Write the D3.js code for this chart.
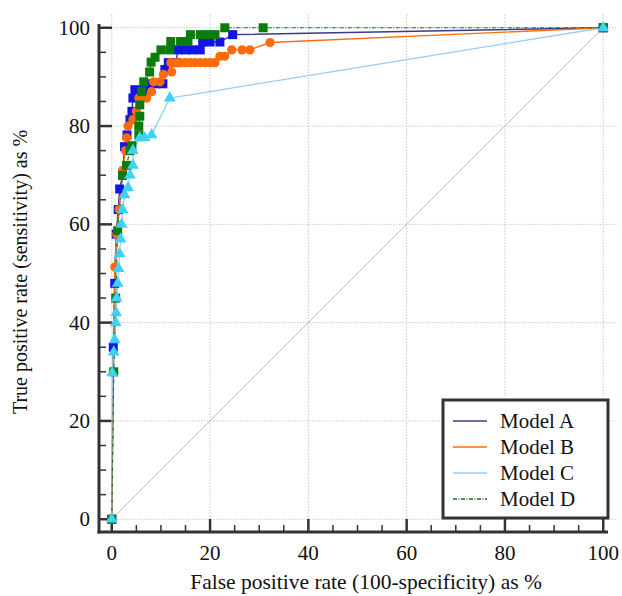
<!DOCTYPE html>
<html>
<head>
<meta charset="utf-8">
<script src="https://cdn.jsdelivr.net/npm/d3@7"></script>
<style>
  body { margin: 0; background: #fff; }
  text { font-family: "Liberation Serif", "Times New Roman", serif; fill: #111; }
</style>
</head>
<body>
<div id="roc"></div>
<script>
// ROC points per model: [false positive rate %, true positive rate %]
const modelA = [[0,0],[0.3,35],[0.6,48],[0.9,58],[1.3,63],[1.6,67.2],[2.2,70],[2.6,75.8],[3.1,78.2],[3.7,81.3],[4.1,83],[4.3,85.7],[4.7,87.4],[6.5,87.4],[7.7,88.6],[9,88.6],[10.4,88.6],[10.8,91.5],[11.5,92.9],[13,92.9],[13.5,95.5],[15,95.5],[16.5,95.5],[18,95.5],[18.5,97.1],[20,97.1],[22,97.1],[24.6,98.6],[100,100]];
const modelB = [[0,0],[0.3,30],[0.6,51.3],[1,58],[1.5,63],[2.2,71],[2.8,75],[3,77.6],[3.3,80],[4.3,81.3],[5,83],[5.5,85.7],[7.1,85.7],[8.1,87],[8.5,89],[9.8,89],[10.5,90.5],[12.2,91],[12,92.9],[13,92.9],[14,92.9],[15,92.9],[16,92.9],[17,92.9],[18,92.9],[19,92.9],[20,92.9],[21,92.9],[22,94.2],[23,94.2],[24.4,95.5],[26.5,95.5],[28.1,95.5],[32.2,97],[100,100]];
const modelC = [[0,0],[0.1,29.8],[0.4,34],[0.6,36.5],[0.8,40],[0.9,42],[1,45],[1.2,48],[1.4,51],[1.6,54],[1.8,57],[2,60],[2.2,63],[2.6,66],[3.3,67.5],[3.7,70],[4.3,72],[4.3,75],[5.7,77.6],[6.7,77.6],[8.1,78.2],[11.8,85.7],[100,100]];
const modelD = [[0,0],[0.4,30],[0.8,45],[1.2,58.7],[2.2,70],[3,72],[3.7,75],[4.1,76],[5.5,78.2],[5.5,80],[5.7,82],[5.7,84.3],[6.1,87],[6.5,89],[7.7,91],[8,93],[8.8,94],[10,95.5],[11.8,95.5],[12,97.2],[14,97.2],[15.5,97.2],[16,98.6],[18,98.6],[19.5,98.6],[21,98.6],[23,100],[30.8,100],[100,100]];

const modelNames = ["Model A", "Model B", "Model C", "Model D"];
const majorTicks = [0, 20, 40, 60, 80, 100];
const minorTicks = d3.range(5, 100, 5).filter(v => v % 20 !== 0);

const width = 622, height = 596;

const svg = d3.select("#roc")
              .append("svg")
              .attr("width", width)
              .attr("height", height);

// Scales (the plot area extends a little past 0 and 100)
const x = d3.scaleLinear().domain([-2.6, 102.8]).range([99, 617]);
const y = d3.scaleLinear().domain([-2.6, 102.8]).range([532, 14]);

// Dotted grid lines at the major ticks
svg.append("g")
   .selectAll("line")
   .data(majorTicks)
   .enter()
   .append("line")
   .attr("x1", d => x(d)).attr("x2", d => x(d))
   .attr("y1", 532).attr("y2", 14)
   .attr("stroke", "#c8c8c8")
   .attr("stroke-dasharray", "1.5,1.5");

svg.append("g")
   .selectAll("line")
   .data(majorTicks)
   .enter()
   .append("line")
   .attr("x1", 99).attr("x2", 617)
   .attr("y1", d => y(d)).attr("y2", d => y(d))
   .attr("stroke", "#c8c8c8")
   .attr("stroke-dasharray", "1.5,1.5");

// Reference diagonal
svg.append("line")
   .attr("x1", x(0)).attr("y1", y(0))
   .attr("x2", x(100)).attr("y2", y(100))
   .attr("stroke", "#bda8a8")
   .attr("stroke-width", 0.8);

// Axes: thick lines with inward ticks
const axisColor = "#333";
svg.append("line")
   .attr("x1", 99).attr("x2", 99)
   .attr("y1", 24).attr("y2", 533.5)
   .attr("stroke", axisColor).attr("stroke-width", 3);
svg.append("line")
   .attr("x1", 97.5).attr("x2", 608)
   .attr("y1", 532).attr("y2", 532)
   .attr("stroke", axisColor).attr("stroke-width", 3);

svg.append("g").selectAll("line").data(majorTicks).enter().append("line")
   .attr("x1", 99).attr("x2", 112)
   .attr("y1", d => y(d)).attr("y2", d => y(d))
   .attr("stroke", axisColor).attr("stroke-width", 2.5);
svg.append("g").selectAll("line").data(minorTicks).enter().append("line")
   .attr("x1", 99).attr("x2", 106)
   .attr("y1", d => y(d)).attr("y2", d => y(d))
   .attr("stroke", axisColor).attr("stroke-width", 1.5);
svg.append("g").selectAll("line").data(majorTicks).enter().append("line")
   .attr("x1", d => x(d)).attr("x2", d => x(d))
   .attr("y1", 532).attr("y2", 519)
   .attr("stroke", axisColor).attr("stroke-width", 2.5);
svg.append("g").selectAll("line").data(minorTicks).enter().append("line")
   .attr("x1", d => x(d)).attr("x2", d => x(d))
   .attr("y1", 532).attr("y2", 525)
   .attr("stroke", axisColor).attr("stroke-width", 1.5);

// Tick labels
svg.append("g").selectAll("text").data(majorTicks).enter().append("text")
   .attr("x", 90)
   .attr("y", d => y(d) + 7)
   .attr("text-anchor", "end")
   .style("font-size", "21px")
   .text(d => d);
svg.append("g").selectAll("text").data(majorTicks).enter().append("text")
   .attr("x", d => x(d))
   .attr("y", 560)
   .attr("text-anchor", "middle")
   .style("font-size", "21px")
   .text(d => d);

// Axis titles
svg.append("text")
   .attr("x", 366)
   .attr("y", 589)
   .attr("text-anchor", "middle")
   .style("font-size", "21.5px")
   .text("False positive rate (100-specificity) as %");
svg.append("text")
   .attr("x", -272)
   .attr("y", 27)
   .attr("text-anchor", "middle")
   .attr("transform", "rotate(-90)")
   .style("font-size", "20px")
   .text("True positive rate (sensitivity) as %");

// Curves
const line = d3.line().x(d => x(d[0])).y(d => y(d[1]));
const series = [
  {data: modelA, line: "#3c3a86", dash: null, marker: "square", fill: "#1414e6", lw: 1.4},
  {data: modelB, line: "#ff6c10", dash: null, marker: "circle", fill: "#ff6a0a", lw: 1.4},
  {data: modelC, line: "#98ccf4", dash: null, marker: "triangle", fill: "#3ed2fa", lw: 1.3},
  {data: modelD, line: "#1d6e1d", dash: "4,1.5,1,1.5", marker: "square", fill: "#0b7c0b", lw: 1.2}
];

series.forEach(s => {
  svg.append("path")
     .datum(s.data)
     .attr("d", line)
     .attr("fill", "none")
     .attr("stroke", s.line)
     .attr("stroke-width", s.lw)
     .attr("stroke-dasharray", s.dash);
});

// Markers (triangles on top, as in the original)
[series[0], series[1], series[3], series[2]].forEach(s => {
  const g = svg.append("g");
  if (s.marker === "square") {
    g.selectAll("rect").data(s.data).enter().append("rect")
     .attr("x", d => x(d[0]) - 4.5)
     .attr("y", d => y(d[1]) - 4.5)
     .attr("width", 9).attr("height", 9)
     .attr("fill", s.fill);
  } else if (s.marker === "circle") {
    g.selectAll("circle").data(s.data).enter().append("circle")
     .attr("cx", d => x(d[0]))
     .attr("cy", d => y(d[1]))
     .attr("r", 4.6)
     .attr("fill", s.fill);
  } else {
    g.selectAll("path").data(s.data).enter().append("path")
     .attr("d", d3.symbol(d3.symbolTriangle, 60))
     .attr("transform", d => `translate(${x(d[0])},${y(d[1])})`)
     .attr("fill", s.fill);
  }
});

// Legend
const legend = svg.append("g");
legend.append("rect")
      .attr("x", 443).attr("y", 400)
      .attr("width", 165).attr("height", 118)
      .attr("fill", "#fff")
      .attr("stroke", "#333")
      .attr("stroke-width", 3);

const rows = legend.selectAll(".row")
                   .data(modelNames)
                   .enter()
                   .append("g")
                   .attr("transform", (d, i) => `translate(0, ${421 + i * 26})`);

rows.append("line")
    .attr("x1", 453).attr("x2", 487)
    .attr("y1", 0).attr("y2", 0)
    .attr("stroke", (d, i) => series[i].line)
    .attr("stroke-width", 1.5)
    .attr("stroke-dasharray", (d, i) => series[i].dash);

rows.append("text")
    .attr("x", 500)
    .attr("y", 7)
    .style("font-size", "21px")
    .text(d => d);
</script>
</body>
</html>
